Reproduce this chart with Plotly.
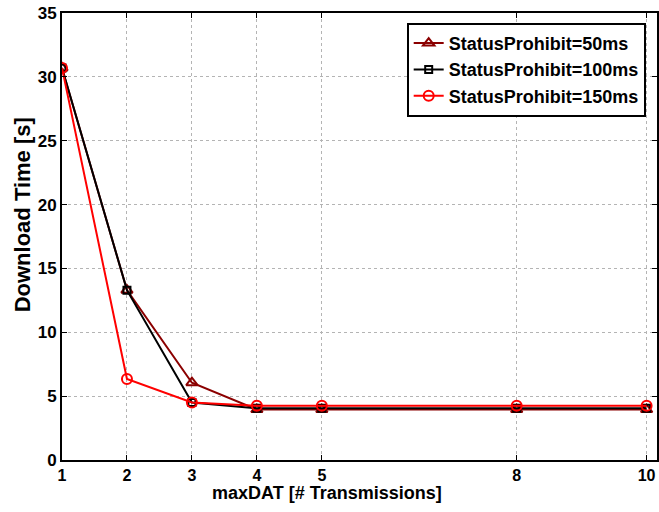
import plotly.graph_objects as go

max_dat = [1, 2, 3, 4, 5, 8, 10]
sp50 = [30.7, 13.3, 6.05, 3.95, 3.95, 3.95, 3.95]
sp100 = [30.7, 13.3, 4.5, 4.05, 4.05, 4.05, 4.05]
sp150 = [30.7, 6.35, 4.5, 4.25, 4.25, 4.25, 4.25]
x_ticks = [1, 2, 3, 4, 5, 8, 10]
y_ticks = [0, 5, 10, 15, 20, 25, 30, 35]

FONT = "Liberation Sans"

fig = go.Figure()
fig.add_trace(go.Scatter(x=max_dat, y=sp50, mode="lines+markers", name="<b>StatusProhibit=50ms</b>",
                         line=dict(color="#8B0000", width=2),
                         marker=dict(symbol="triangle-up-open", size=10, color="#8B0000", line=dict(width=2))))
fig.add_trace(go.Scatter(x=max_dat, y=sp100, mode="lines+markers", name="<b>StatusProhibit=100ms</b>",
                         line=dict(color="black", width=2),
                         marker=dict(symbol="square-open", size=7, color="black", line=dict(width=2))))
fig.add_trace(go.Scatter(x=max_dat, y=sp150, mode="lines+markers", name="<b>StatusProhibit=150ms</b>",
                         line=dict(color="#FF0000", width=2),
                         marker=dict(symbol="circle-open", size=10, color="#FF0000", line=dict(width=2))))

axis_common = dict(showline=True, linecolor="black", linewidth=2, mirror="ticks",
                   ticks="inside", ticklen=5, tickwidth=1, tickcolor="black",
                   showgrid=True, gridcolor="#b4b4b4", griddash="dot", gridwidth=1,
                   zeroline=False, automargin=False, ticklabeloverflow="allow")

fig.update_xaxes(range=[1, 10.16], tickvals=x_ticks, ticktext=[f"<b>{v}</b>" for v in x_ticks],
                 tickfont=dict(family=FONT, size=16, color="black", weight="bold"), **axis_common)
fig.update_yaxes(range=[0, 35], tickvals=y_ticks, ticktext=[f"<b>{v}</b>" for v in y_ticks],
                 tickfont=dict(family=FONT, size=17, color="black", weight="bold"), **axis_common)

fig.add_annotation(text="<b>maxDAT [# Transmissions]</b>", xref="paper", yref="paper",
                   x=0.445, y=-0.074, xanchor="center", yanchor="middle", showarrow=False,
                   font=dict(family=FONT, size=18, color="black"))
fig.add_annotation(text="<b>Download Time [s]</b>", xref="paper", yref="paper",
                   x=-0.066, y=0.549, xanchor="center", yanchor="middle", showarrow=False,
                   textangle=-90, font=dict(family=FONT, size=22, color="black"))

fig.update_layout(
    width=659, height=512,
    margin=dict(l=62, r=2, t=13, b=52),
    paper_bgcolor="white", plot_bgcolor="white",
    font=dict(family=FONT, color="black"),
    legend=dict(x=0.981, y=0.978, xanchor="right", yanchor="top",
                bgcolor="white", bordercolor="black", borderwidth=2,
                font=dict(family=FONT, size=18, color="black"),
                tracegroupgap=0, itemwidth=30),
    showlegend=True,
)

# remove the browser's default 8px body margin so the figure fills the window exactly
fig.write_html("out.html", config={"displayModeBar": False},
               post_script="document.body.style.margin='0px';")
